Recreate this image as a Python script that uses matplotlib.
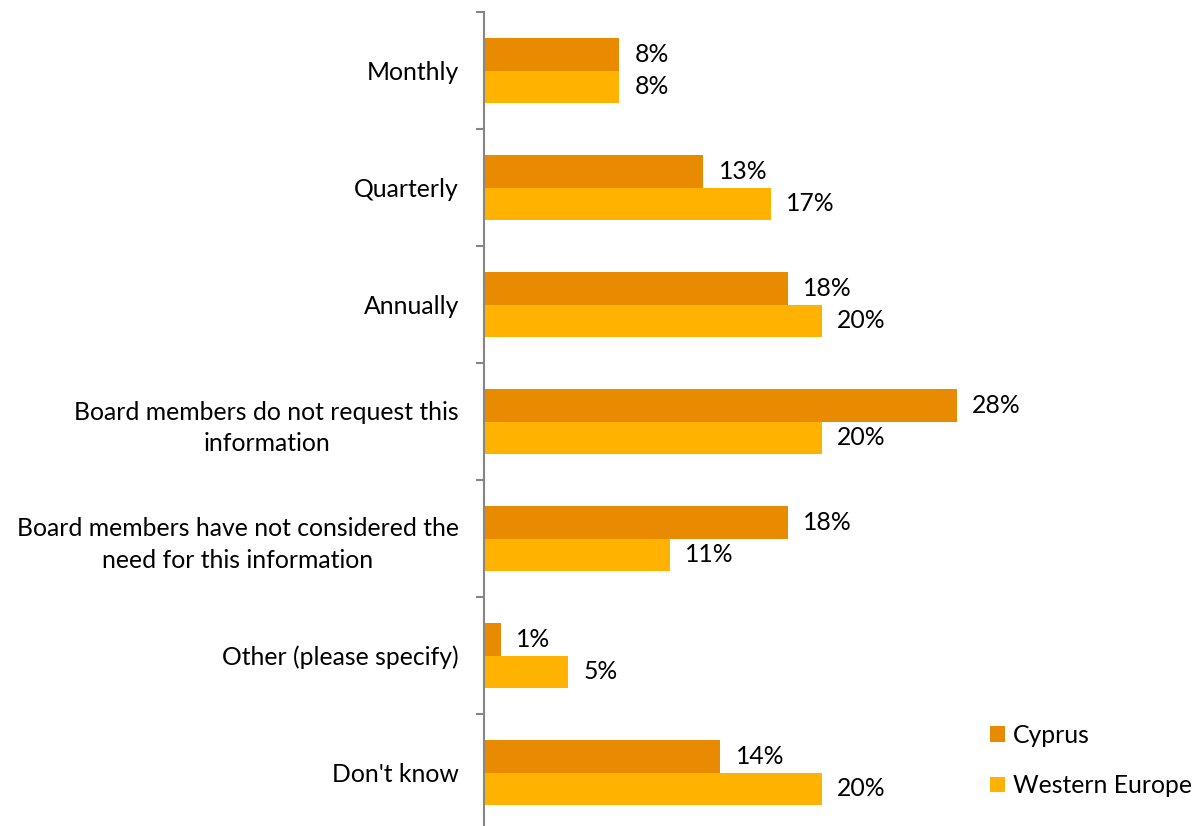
import matplotlib.pyplot as plt
import numpy as np

# survey answers, top to bottom as shown
categories = [
    "Monthly",
    "Quarterly",
    "Annually",
    "Board members do not request this\ninformation",
    "Board members have not considered the\nneed for this information",
    "Other (please specify)",
    "Don't know",
]
cyprus = [8, 13, 18, 28, 18, 1, 14]
western_europe = [8, 17, 20, 20, 11, 5, 20]
series_names = ["Cyprus", "Western Europe"]

plt.rcParams["font.family"] = ["Lato", "DejaVu Sans"]
fs = 17.8

fig = plt.figure(figsize=(12.01, 8.26), dpi=100)
# axis spine at x=484px, top at 12px, bottom just below the picture
ax = fig.add_axes([484 / 1201, -5 / 826, (1150 - 484) / 1201, (826 - 12 + 5) / 826])

n = len(categories)
y = np.arange(n)
h = 0.28
bars1 = ax.barh(y - h / 2, cyprus, height=h, color="#E98B00", label=series_names[0])
bars2 = ax.barh(y + h / 2, western_europe, height=h, color="#FFB300", label=series_names[1])

for bars, vals in ((bars1, cyprus), (bars2, western_europe)):
    for b, v in zip(bars, vals):
        ax.annotate("{0}%".format(v), (b.get_width(), b.get_y() + b.get_height() / 2),
                    xytext=(11, 0), textcoords="offset points",
                    ha="left", va="center", fontsize=fs)

ax.set_xlim(0, 39.45)
ax.set_ylim(n - 0.5, -0.5)

ax.set_yticks(y)
ax.set_yticklabels(categories, fontsize=fs, multialignment="center", linespacing=1.45)
ax.tick_params(axis="y", which="major", length=0, pad=18)
ax.set_yticks(np.arange(n + 1) - 0.5, minor=True)
ax.tick_params(axis="y", which="minor", length=6, width=1.5, color="#868686")
ax.set_xticks([])

for s in ("top", "right", "bottom"):
    ax.spines[s].set_visible(False)
ax.spines["left"].set_color("#868686")
ax.spines["left"].set_linewidth(1.5)

fig.legend(loc="upper left", bbox_to_anchor=(980 / 1201, 1 - 714 / 826),
           frameon=False, fontsize=fs, handlelength=0.6, handleheight=0.6,
           handletextpad=0.35, labelspacing=1.1, borderaxespad=0)

plt.savefig("out.png", dpi=100)
